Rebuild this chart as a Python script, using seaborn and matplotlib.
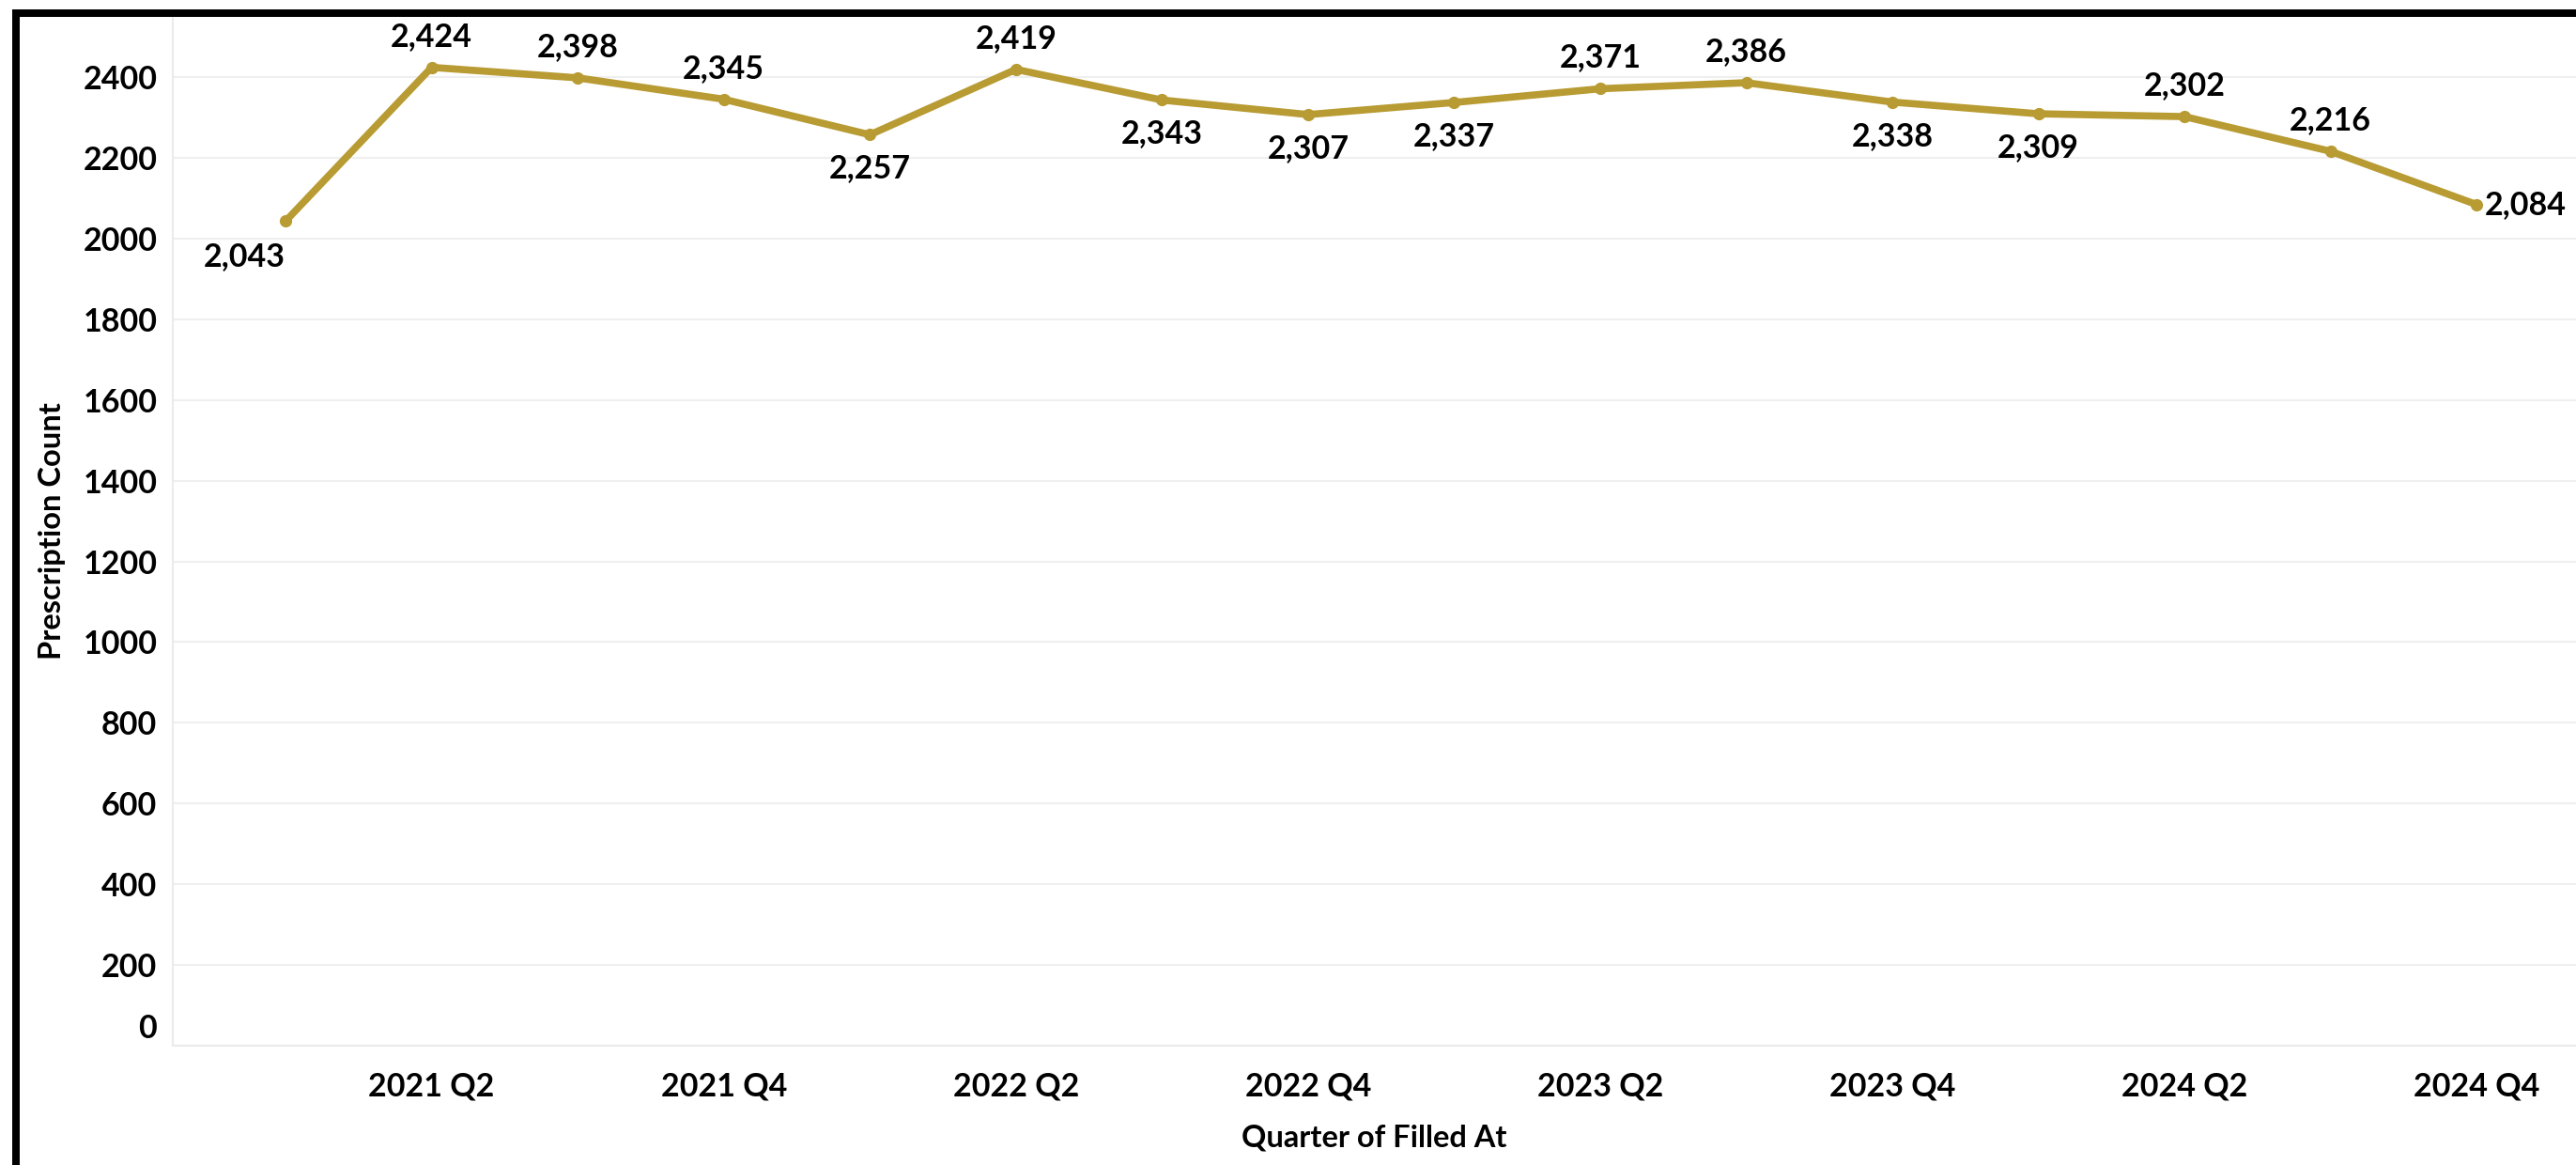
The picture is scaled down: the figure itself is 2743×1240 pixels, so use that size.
import pandas as pd
import matplotlib.pyplot as plt
import matplotlib.transforms as mtransforms
from matplotlib.patches import Rectangle
import seaborn as sns

# data
quarters = ['2021 Q1', '2021 Q2', '2021 Q3', '2021 Q4',
            '2022 Q1', '2022 Q2', '2022 Q3', '2022 Q4',
            '2023 Q1', '2023 Q2', '2023 Q3', '2023 Q4',
            '2024 Q1', '2024 Q2', '2024 Q3', '2024 Q4']
counts = [2043, 2424, 2398, 2345, 2257, 2419, 2343, 2307,
          2337, 2371, 2386, 2338, 2309, 2302, 2216, 2084]
label_side = ['below_left', 'above', 'above', 'above', 'below', 'above', 'below', 'below',
              'below', 'above', 'above', 'below', 'below', 'above', 'above', 'right']
y_ticks = [0, 200, 400, 600, 800, 1000, 1200, 1400, 1600, 1800, 2000, 2200, 2400]

sns.set_theme(style='white')
plt.rcParams['font.family'] = ['Lato', 'DejaVu Sans']
plt.rcParams['font.weight'] = 'bold'

df = pd.DataFrame({'quarter': quarters, 'count': counts})
df['pos'] = range(len(df))

W, H = 2743, 1240
fig = plt.figure(figsize=(W / 100, H / 100), dpi=100)
ax = fig.add_axes([184 / W, 1 - 1113 / H, 1 - 184 / W, (1113 - 18) / H])

gold = '#B89B32'
sns.lineplot(data=df, x='pos', y='count', color=gold, linewidth=5.5,
             marker='o', markersize=9.5, markeredgewidth=0, ax=ax)

# value labels
offsets = {'above': (0, 33, 'center', 'center'),
           'below': (0, -36, 'center', 'center'),
           'below_left': (0, -38, 'right', 'center'),
           'right': (9, 0, 'left', 'center')}
for _, row in df.iterrows():
    dx, dy, ha, va = offsets[label_side[row['pos']]]
    ax.annotate(f"{row['count']:,}", (row['pos'], row['count']),
                xytext=(dx, dy), textcoords='offset pixels',
                ha=ha, va=va, fontsize=24.5, fontweight='bold', color='black',
                annotation_clip=False)

# axes
ax.set_xlim(-0.772, 15.68)
ax.set_ylim(0, 2549)
ax.set_yticks(y_ticks)
ax.set_yticklabels([str(v) for v in y_ticks])
ax.set_xticks(df['pos'])
ax.set_xticklabels([q if q.endswith(('Q2', 'Q4')) else '' for q in quarters])

ax.grid(axis='y', color='#EFEFEF', linewidth=1.5)
ax.grid(axis='x', visible=False)
for side in ['top', 'right']:
    ax.spines[side].set_visible(False)
ax.spines['left'].set_color('#EBEBEB')
ax.spines['bottom'].set_color('#EBEBEB')
ax.spines['left'].set_linewidth(1.5)
ax.spines['bottom'].set_linewidth(1.5)

ax.tick_params(axis='x', length=6, width=1, color='#DDDDDD', pad=14,
               labelsize=24.5, labelcolor='black')
ax.tick_params(axis='y', length=0, pad=12, labelsize=24.5, labelcolor='black')
for lab in ax.get_xticklabels() + ax.get_yticklabels():
    lab.set_fontweight('bold')

# Tableau nudges the bottom "0" label up
zero_lab = ax.get_yticklabels()[0]
zero_lab.set_transform(zero_lab.get_transform() +
                       mtransforms.ScaledTranslation(0, 21 / 100, fig.dpi_scale_trans))

ax.set_xlabel('Quarter of Filled At', fontsize=23.5, fontweight='bold', color='black')
ax.set_ylabel('Prescription Count', fontsize=23.5, fontweight='bold', color='black')
ax.xaxis.label.set_va('center')
ax.yaxis.label.set_va('center')
ax.xaxis.set_label_coords(0.5, (1113 - 1211) / 1095)
ax.yaxis.set_label_coords((56 - 184) / 2559, 0.5)

# black frame on top and left edges
fig.add_artist(Rectangle((13 / W, 0), 8 / W, 1 - 10 / H, transform=fig.transFigure,
                         color='black', lw=0))
fig.add_artist(Rectangle((13 / W, 1 - 18 / H), 1, 8 / H, transform=fig.transFigure,
                         color='black', lw=0))

fig.savefig('out.png', dpi=100)
